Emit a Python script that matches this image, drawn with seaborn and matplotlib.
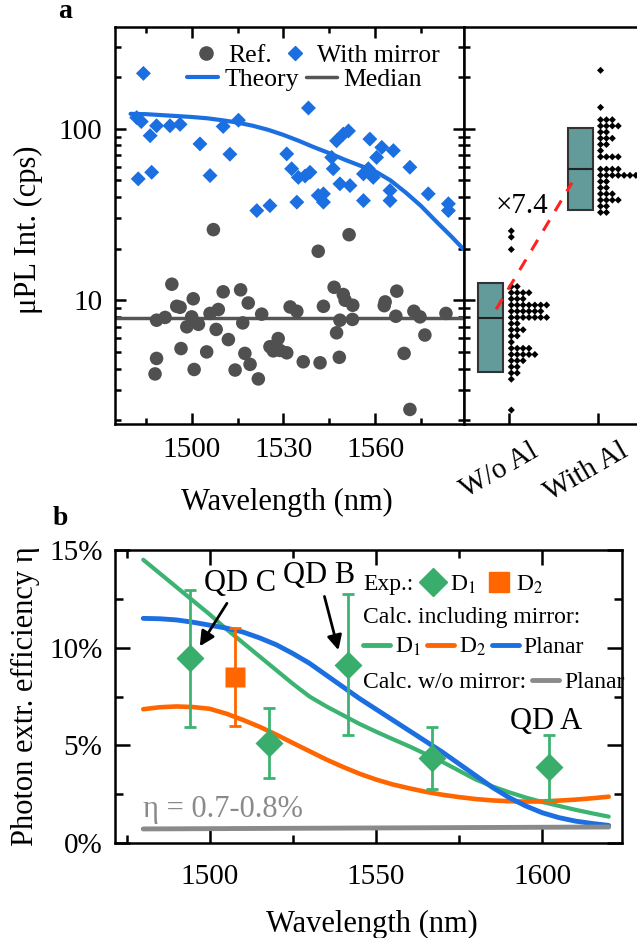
import numpy as np
import matplotlib
matplotlib.use("Agg")
import matplotlib.pyplot as plt
import matplotlib.ticker as mticker
from matplotlib.lines import Line2D
import seaborn as sns

sns.set_theme(style="ticks", rc={
    "axes.edgecolor": "black", "text.color": "black", "axes.labelcolor": "black",
    "xtick.color": "black", "ytick.color": "black", "axes.linewidth": 1.8,
})
plt.rcParams["font.family"] = ["Liberation Serif", "DejaVu Serif"]
plt.rcParams["mathtext.fontset"] = "stix"

# ---------------- panel a data ----------------
ref_wl = [1488.5, 1491.3, 1488.5, 1488.0, 1493.5, 1495.1, 1496.2, 1496.5, 1498.4, 1500.0,
          1500.5, 1502.2, 1500.8, 1504.9, 1506.0, 1508.7, 1507.1, 1508.0, 1510.3, 1512.0,
          1514.2, 1516.0, 1516.7, 1517.4, 1518.5, 1519.1, 1521.8, 1522.9, 1525.6, 1526.7,
          1528.3, 1528.9, 1531.1, 1532.2, 1534.4, 1536.5, 1541.4, 1542.0, 1543.1, 1546.6,
          1549.6, 1550.2, 1548.5, 1547.4, 1548.3, 1552.7, 1552.6, 1551.5, 1563.3, 1563.0,
          1567.1, 1566.8, 1569.5, 1572.7, 1574.7, 1576.3, 1571.4, 1583.2]
ref_int = [7.65, 7.94, 4.58, 3.72, 12.4, 9.22, 9.1, 5.23, 7.0, 8.0,
           10.2, 7.24, 3.95, 5.0, 8.38, 8.83, 25.8, 6.76, 11.2, 5.9,
           3.92, 11.5, 7.38, 4.9, 9.64, 4.23, 3.48, 8.3, 5.36, 5.07,
           5.98, 5.1, 4.94, 9.14, 8.63, 4.38, 19.3, 4.32, 9.22, 11.9,
           10.8, 10.0, 7.65, 6.46, 4.65, 9.35, 7.73, 24.1, 9.78, 9.3,
           11.3, 8.07, 4.9, 8.63, 8.0, 6.27, 2.31, 8.38]

mirror_wl = [1484.2, 1482.0, 1483.5, 1486.4, 1488.5, 1492.9, 1496.2, 1482.5, 1486.9, 1502.7,
             1506.0, 1510.3, 1515.3, 1512.5, 1521.3, 1525.6, 1534.4, 1538.2, 1531.1, 1532.7,
             1534.9, 1538.7, 1537.1, 1541.4, 1543.1, 1543.1, 1545.8, 1547.4, 1549.6, 1551.3,
             1546.3, 1548.5, 1551.8, 1556.2, 1558.3, 1556.2, 1557.8, 1559.4, 1560.5, 1562.2,
             1566.0, 1564.9, 1564.9, 1571.4, 1577.4, 1584.0, 1584.0]
mirror_int = [210, 116, 110, 91, 104, 104, 106, 51, 55.7, 81.5,
              53.3, 103, 112, 71, 33.3, 35.6, 37.3, 132, 71.3, 58.4,
              52, 55.7, 53, 40.8, 41.7, 37.3, 68, 85, 93, 97,
              58.4, 47.7, 46.6, 38.1, 87, 54.5, 58.4, 52, 68, 77.8,
              74.5, 43.6, 38.1, 59.6, 41.7, 36.5, 33.3]

theory_wl = [1480, 1485, 1490, 1495, 1500, 1505, 1510, 1515, 1520, 1525, 1530, 1535,
             1540, 1545, 1550, 1555, 1560, 1565, 1570, 1575, 1580, 1585, 1589]
theory_int = [122, 121.5, 120, 118.5, 117, 115, 112, 108.5, 104, 98.5, 92, 85,
              78, 72, 66, 61, 56.5, 50, 42.5, 35.5, 28.8, 23.5, 19.8]

groups = ["W/o Al", "With Al"]
box_low = [3.81, 33.8]
box_median = [7.85, 58.0]
box_high = [12.6, 100.3]

# ---------------- panel b data ----------------
calc_wl = [1480, 1485, 1490, 1495, 1500, 1505, 1510, 1515, 1520, 1525, 1530, 1535, 1540,
           1545, 1550, 1555, 1560, 1565, 1570, 1575, 1580, 1585, 1590, 1595, 1600, 1605,
           1610, 1615, 1620]
calc_d1 = [14.5, 13.8, 13.1, 12.4, 11.7, 10.95, 10.25, 9.55, 8.85, 8.15, 7.5, 7.0, 6.55,
           6.1, 5.7, 5.32, 4.95, 4.55, 4.15, 3.7, 3.25, 2.9, 2.6, 2.33, 2.1, 1.9,
           1.7, 1.52, 1.35]
calc_d2 = [6.85, 6.95, 6.99, 6.96, 6.87, 6.62, 6.3, 5.95, 5.55, 5.12, 4.7, 4.28, 3.9,
           3.55, 3.25, 3.0, 2.8, 2.62, 2.47, 2.35, 2.25, 2.18, 2.14, 2.12, 2.13, 2.17,
           2.22, 2.29, 2.37]
calc_planar = [11.5, 11.48, 11.42, 11.3, 11.15, 11.0, 10.8, 10.5, 10.15, 9.7, 9.2, 8.6, 8.0,
               7.4, 6.85, 6.3, 5.75, 5.2, 4.65, 4.05, 3.45, 2.85, 2.33, 1.9, 1.55, 1.3,
               1.12, 1.0, 0.9]
nomirror_wl = [1480, 1620]
nomirror_planar = [0.72, 0.82]

exp_d1_wl = [1494.0, 1517.9, 1541.7, 1566.9, 1602.0]
exp_d1_eta = [9.45, 5.11, 9.13, 4.34, 3.88]
exp_d1_err = [3.5, 1.8, 3.6, 1.6, 1.66]
exp_d2_wl = [1507.5]
exp_d2_eta = [8.5]
exp_d2_err = [2.5]

# ---------------- colours ----------------
GRAY_DOT = "#505050"
BLUE = "#1c6fe0"
GREEN = "#3cb371"
GREEN_MK = "#38ad6c"
ORANGE = "#ff6600"
GRAY_LINE = "#8a8a8a"
BOX = "#639a9a"
RED = "#ff2020"

W, H = 637, 938
fig = plt.figure(figsize=(W / 100, H / 100), dpi=100)


def rect(x0, y0, x1, y1):
    return [x0 / W, 1 - y1 / H, (x1 - x0) / W, (y1 - y0) / H]


ax_a = fig.add_axes(rect(115, 26.5, 464, 424))
ax_r = fig.add_axes(rect(464, 26.5, 642.5, 424), sharey=ax_a)
ax_b = fig.add_axes(rect(115, 550, 622, 843))

# ================= panel a: scatter vs wavelength =================
sns.scatterplot(x=ref_wl, y=ref_int, ax=ax_a, color=GRAY_DOT, marker="o", s=95,
                edgecolor="none", zorder=3, legend=False)
sns.scatterplot(x=mirror_wl, y=mirror_int, ax=ax_a, color=BLUE, marker="D", s=58,
                edgecolor="none", zorder=3, legend=False)
sns.lineplot(x=theory_wl, y=theory_int, ax=ax_a, color=BLUE, lw=3, zorder=4, legend=False)
ax_a.axhline(box_median[0], color="#555555", lw=2.5, zorder=2)

ax_a.set_yscale("log")
ax_a.set_ylim(1.9, 394)
ax_a.set_xlim(1474.9, 1589.1)
ax_a.xaxis.set_major_locator(mticker.MultipleLocator(30))
ax_a.xaxis.set_minor_locator(mticker.MultipleLocator(15))
ax_a.yaxis.set_major_locator(mticker.LogLocator(base=10))
ax_a.yaxis.set_minor_locator(mticker.LogLocator(base=10, subs=np.arange(2, 10)))
ax_a.yaxis.set_major_formatter(mticker.FuncFormatter(lambda v, p: f"{v:g}"))
ax_a.yaxis.set_minor_formatter(mticker.NullFormatter())
ax_a.tick_params(which="both", direction="in", top=True, right=True, bottom=True, left=True,
                 width=1.8, labelsize=21, pad=9)
ax_a.tick_params(which="major", length=8)
ax_a.tick_params(which="minor", length=4.5)
ax_a.set_xlabel("Wavelength (nm)", fontsize=22)
ax_a.set_ylabel("μPL Int. (cps)", fontsize=22)
ax_a.xaxis.set_label_coords(0.493, -0.161)
ax_a.yaxis.set_label_coords(-0.206, 0.488)

h_ref = Line2D([], [], ls="none", marker="o", color=GRAY_DOT, ms=9.5)
h_mir = Line2D([], [], ls="none", marker="D", color=BLUE, ms=7.5)
h_th = Line2D([], [], color=BLUE, lw=3)
h_med = Line2D([], [], color="#555555", lw=2.5)
leg_kw = dict(frameon=False, fontsize=18.5, handlelength=1.2, handletextpad=0.25,
              columnspacing=0.3, borderpad=0, borderaxespad=0, loc="center")
leg1 = ax_a.legend([h_ref, h_mir], ["Ref.", "With mirror"], ncol=2,
                   bbox_to_anchor=(0.573, 0.928), **leg_kw)
ax_a.add_artist(leg1)
ax_a.legend([h_th, h_med], ["Theory", "Median"], ncol=2,
            bbox_to_anchor=(0.543, 0.867), **leg_kw)

# ================= panel a: box + dot summary =================
cats = np.arange(len(groups))
stats = [dict(med=m, q1=lo, q3=hi, whislo=lo, whishi=hi, fliers=[])
         for lo, m, hi in zip(box_low, box_median, box_high)]
ax_r.bxp(stats, positions=cats - 0.2, widths=0.28, patch_artist=True,
         showcaps=False, showfliers=False, manage_ticks=False,
         boxprops=dict(facecolor=BOX, edgecolor="#333333", lw=1.5),
         medianprops=dict(color="#222222", lw=1.5),
         whiskerprops=dict(lw=0))


def dot_columns(values, center, step=0.036, x0=0.03, dx=0.066):
    lv = np.log10(np.asarray(values, float))
    b = np.round(lv / step).astype(int)
    xs, ys = [], []
    for k in np.unique(b):
        n = int((b == k).sum())
        xs += [center + x0 + i * dx for i in range(n)]
        ys += [10 ** (k * step)] * n
    return xs, ys


for c, vals in zip(cats, [ref_int, mirror_int]):
    dx_, dy_ = dot_columns(vals, c)
    sns.scatterplot(x=dx_, y=dy_, ax=ax_r, marker="D", color="black", s=13,
                    edgecolor="none", legend=False, zorder=3)

# dashed link between the two medians
t = np.array([0.06, 0.91])
lm0, lm1 = np.log10(box_median[0]), np.log10(box_median[1])
ax_r.plot(-0.2 + t * 1.0, 10 ** (lm0 + t * (lm1 - lm0)), color=RED, lw=2.2,
          dashes=(4, 3.5), zorder=5)
ratio = box_median[1] / box_median[0]
ax_r.text(0.15, 35.2, f"×{ratio:.1f}", fontsize=21, ha="center", va="center")

ax_r.set_xlim(-0.5, 1.5)
ax_r.set_xticks(cats)
ax_r.set_xticklabels([])
# rotated category names, nudged left of their ticks
for c, name, dx_pt in zip(cats, groups, [-6.5, -8.5]):
    ax_r.annotate(name, xy=(c, 0), xycoords=("data", "axes fraction"),
                  xytext=(dx_pt, -10), textcoords="offset points",
                  rotation=30, ha="center", va="top", fontsize=21, annotation_clip=False)
ax_r.tick_params(axis="x", direction="in", length=8, width=1.8, top=False, bottom=True)
ax_r.tick_params(axis="y", which="both", direction="in", left=True, right=False,
                 labelleft=False, width=1.8)
ax_r.tick_params(axis="y", which="major", length=8)
ax_r.tick_params(axis="y", which="minor", length=4.5)

# ================= panel b =================
sns.lineplot(x=calc_wl, y=calc_d1, ax=ax_b, color=GREEN, lw=3, legend=False, zorder=2)
sns.lineplot(x=calc_wl, y=calc_d2, ax=ax_b, color=ORANGE, lw=3.3, legend=False, zorder=2)
sns.lineplot(x=calc_wl, y=calc_planar, ax=ax_b, color=BLUE, lw=3.5, legend=False, zorder=2)
sns.lineplot(x=nomirror_wl, y=nomirror_planar, ax=ax_b, color=GRAY_LINE, lw=3.5,
             legend=False, zorder=2)

ax_b.errorbar(exp_d1_wl, exp_d1_eta, yerr=exp_d1_err, fmt="D", color=GREEN_MK, ecolor=GREEN,
              elinewidth=2, capsize=4, capthick=2, ms=14, mec="none", zorder=4)
ax_b.errorbar(exp_d2_wl, exp_d2_eta, yerr=exp_d2_err, fmt="s", color=ORANGE, ecolor=ORANGE,
              elinewidth=2, capsize=4, capthick=2, ms=14.5, mec="none", zorder=4)

arrow = dict(arrowstyle="-|>", color="black", lw=2, mutation_scale=22, shrinkA=2, shrinkB=0)
ax_b.annotate("QD C", xy=(1497.0, 10.07), xytext=(1509.0, 13.3), fontsize=22,
              ha="center", va="center", arrowprops=arrow)
ax_b.annotate("QD B", xy=(1538.7, 9.87), xytext=(1532.9, 13.67), fontsize=22,
              ha="center", va="center", arrowprops=arrow)
ax_b.text(1601.3, 6.23, "QD A", fontsize=22, ha="center", va="center")
ax_b.text(1479.8, 1.7, "η = 0.7-0.8%", fontsize=22, color=GRAY_LINE, ha="left", va="center")

ax_b.set_xlim(1471.5, 1624)
ax_b.set_ylim(0, 15)
ax_b.xaxis.set_major_locator(mticker.MultipleLocator(50))
ax_b.xaxis.set_minor_locator(mticker.MultipleLocator(25))
ax_b.yaxis.set_major_locator(mticker.MultipleLocator(5))
ax_b.yaxis.set_minor_locator(mticker.MultipleLocator(2.5))
ax_b.yaxis.set_major_formatter(mticker.FuncFormatter(lambda v, p: f"{v:.0f}%"))
ax_b.tick_params(which="both", direction="in", top=True, right=True, bottom=True, left=True,
                 width=1.8, labelsize=21)
ax_b.tick_params(which="major", length=11)
ax_b.tick_params(which="minor", length=5.5)
ax_b.tick_params(axis="x", pad=15)
ax_b.tick_params(axis="y", pad=9)
ax_b.set_xlabel("Wavelength (nm)", fontsize=22)
ax_b.set_ylabel("Photon extr. efficiency η", fontsize=22)
ax_b.xaxis.set_label_coords(0.506, -0.229)
ax_b.yaxis.set_label_coords(-0.148, 0.5)

# legend block: text headers with marker / line rows
LFS = 17
ax_b.text(0.489, 0.881, "Exp.:", transform=ax_b.transAxes, fontsize=LFS, va="center", ha="left")
ax_b.text(0.489, 0.768, "Calc. including mirror:", transform=ax_b.transAxes, fontsize=LFS,
          va="center", ha="left")
ax_b.text(0.489, 0.549, "Calc. w/o mirror:", transform=ax_b.transAxes, fontsize=LFS,
          va="center", ha="left")
bkw = dict(frameon=False, fontsize=LFS, borderpad=0, borderaxespad=0, loc="center left")
lg_a = ax_b.legend([Line2D([], [], ls="none", marker="D", color=GREEN_MK, ms=14),
                    Line2D([], [], ls="none", marker="s", color=ORANGE, ms=14.5)],
                   ["D$_1$", "D$_2$"], ncol=2, bbox_to_anchor=(0.596, 0.881),
                   handlelength=1.3, handletextpad=0.1, columnspacing=0.3, **bkw)
ax_b.add_artist(lg_a)
lg_b = ax_b.legend([Line2D([], [], color=GREEN, lw=3.5), Line2D([], [], color=ORANGE, lw=3.5),
                    Line2D([], [], color=BLUE, lw=3.5)],
                   ["D$_1$", "D$_2$", "Planar"], ncol=3, bbox_to_anchor=(0.489, 0.669),
                   handlelength=1.15, handletextpad=0.2, columnspacing=0.25, **bkw)
ax_b.add_artist(lg_b)
ax_b.legend([Line2D([], [], color=GRAY_LINE, lw=3.5)], ["Planar"],
            bbox_to_anchor=(0.822, 0.549), handlelength=1.15, handletextpad=0.25, **bkw)

fig.text(65 / W, 1 - 12 / H, "a", fontsize=20, fontweight="bold", ha="center", va="center")
fig.text(60 / W, 1 - 518 / H, "b", fontsize=20, fontweight="bold", ha="center", va="center")

fig.savefig("out.png", dpi=100)
